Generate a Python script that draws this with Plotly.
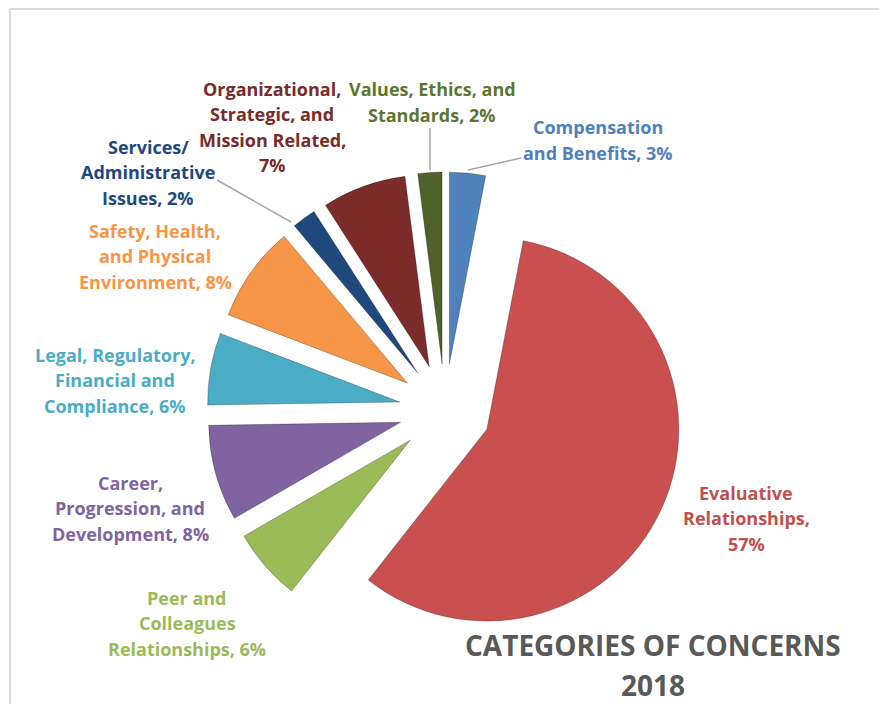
import plotly.graph_objects as go

# ---- data ----
labels = [
    "Compensation and Benefits",
    "Evaluative Relationships",
    "Peer and Colleagues Relationships",
    "Career, Progression, and Development",
    "Legal, Regulatory, Financial and Compliance",
    "Safety, Health, and Physical Environment",
    "Services/ Administrative Issues",
    "Organizational, Strategic, and Mission Related",
    "Values, Ethics, and Standards",
]
values = [3, 57, 6, 8, 6, 8, 2, 7, 2]
wrapped = [
    "Compensation<br>and Benefits, {v}%",
    "Evaluative<br>Relationships,<br>{v}%",
    "Peer and<br>Colleagues<br>Relationships, {v}%",
    "Career,<br>Progression, and<br>Development, {v}%",
    "Legal, Regulatory,<br>Financial and<br>Compliance, {v}%",
    "Safety, Health,<br>and Physical<br>Environment, {v}%",
    "Services/<br>Administrative<br>Issues, {v}%",
    "Organizational,<br>Strategic, and<br>Mission Related,<br>{v}%",
    "Values, Ethics, and<br>Standards, {v}%",
]
slice_colors = ["#4F81BD", "#C9504F", "#9BBB59", "#8064A2", "#4BACC6",
                "#F79646", "#1F497D", "#7B2C2A", "#4F6228"]
text_colors = ["#4F81BD", "#C0504D", "#9BBB59", "#8064A2", "#4BACC6",
               "#F79646", "#1F497D", "#772C2A", "#5E7530"]
title_lines = ["CATEGORIES OF CONCERNS", "2018"]

W, H = 879, 704
# label centres in pixels (layout)
label_pos = [(598, 140), (746, 518), (187, 623), (130, 508), (115, 380),
             (155, 256), (148, 172), (272, 127), (432, 102)]
LINE_H = 25.5

fig = go.Figure(go.Pie(
    labels=labels, values=values, sort=False, direction="clockwise",
    rotation=0, pull=[0.24] * len(values), textinfo="none",
    marker=dict(colors=slice_colors, line=dict(color="rgba(0,0,0,0.25)", width=1)),
    domain=dict(x=[207 / W, 683 / W], y=[1 - 648 / H, 1 - 172 / H]),
    showlegend=False, hoverinfo="label+percent",
))

annotations = []
for txt, v, c, (px, py) in zip(wrapped, values, text_colors, label_pos):
    lines = txt.format(v=v).split("<br>")
    n = len(lines)
    for i, ln in enumerate(lines):
        ly = py + (i - (n - 1) / 2) * LINE_H
        annotations.append(dict(
            x=px / W, y=1 - ly / H, xref="paper", yref="paper",
            text=ln, showarrow=False, xanchor="center", yanchor="middle",
            font=dict(family="Open Sans", size=18, color=c, weight="bold"),
        ))
for t, py in zip(title_lines, [645, 685]):
    annotations.append(dict(
        x=653 / W, y=1 - py / H, xref="paper", yref="paper", text=t,
        showarrow=False, xanchor="center", yanchor="middle",
        font=dict(family="Open Sans", size=28, color="#595959", weight="bold"),
    ))

def pline(x0, y0, x1, y1, color="#A6A6A6", width=1.5):
    return dict(type="line", xref="paper", yref="paper",
                x0=x0 / W, y0=1 - y0 / H, x1=x1 / W, y1=1 - y1 / H,
                line=dict(color=color, width=width))

shapes = [
    pline(10, 9, 879, 9, "#D9D9D9", 2),
    pline(10, 9, 10, 704, "#D9D9D9", 2),
    pline(217, 180, 291, 222),
    pline(430, 128, 430, 170),
    pline(521, 158, 468, 170),
]

fig.update_layout(
    width=W, height=H, margin=dict(l=0, r=0, t=0, b=0),
    paper_bgcolor="white", plot_bgcolor="white",
    annotations=annotations, shapes=shapes,
)
fig.write_html("out.html")
